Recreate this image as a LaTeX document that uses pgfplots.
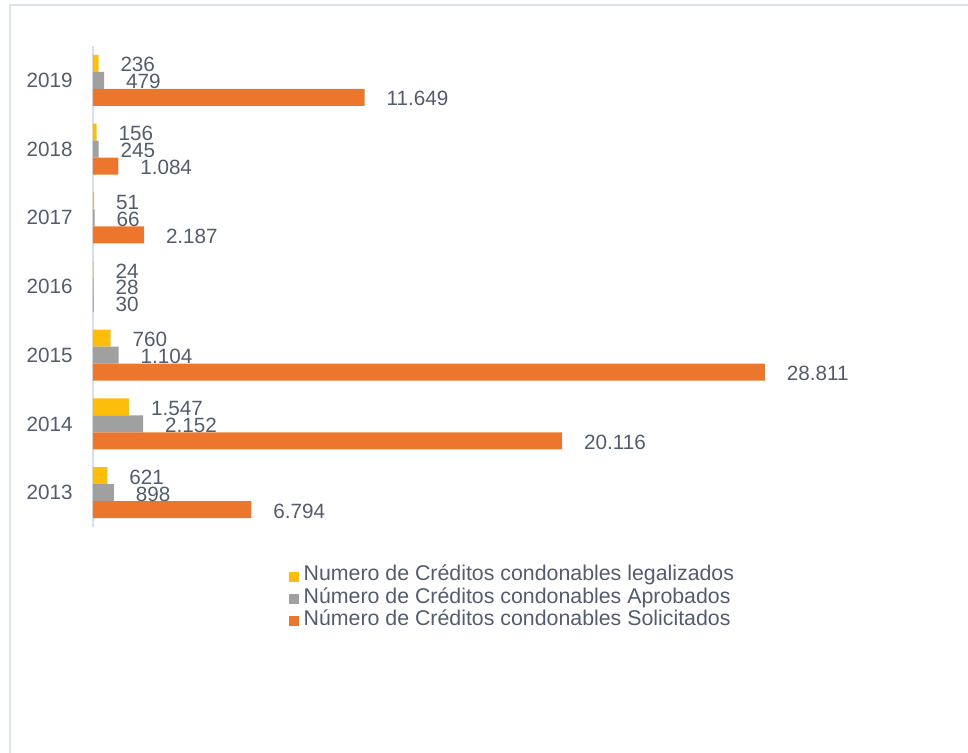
\documentclass[border=0pt]{standalone}
\usepackage{fontspec}
\setmainfont{Liberation Sans}
\usepackage{pgfplots}
\pgfplotsset{compat=1.18}
\definecolor{txt}{RGB}{83,92,108}
\definecolor{framec}{RGB}{220,227,237}
\definecolor{axl}{RGB}{214,224,236}
\definecolor{yel}{RGB}{252,190,10}
\definecolor{gry}{RGB}{160,160,160}
\definecolor{org}{RGB}{237,118,45}
\newcommand{\lblfont}{\fontsize{12.4}{14}\selectfont}
\newcommand{\legfont}{\fontsize{12.8}{14}\selectfont}
\begin{document}
\begin{tikzpicture}
\path[use as bounding box] (0,0) rectangle (580.8pt,-451.8pt);
\draw[framec, line width=1.5pt] (6pt,-451.8pt) -- (6pt,-3pt) -- (580.8pt,-3pt);
\begin{axis}[
  at={(55.8pt,-316.2pt)}, anchor=south west,
  scale only axis, width=420pt, height=288.6pt,
  xbar, bar width=10.2pt,
  xmin=0, xmax=30012, ymin=2012.5, ymax=2019.5,
  axis lines*=left,
  x axis line style={draw=none},
  y axis line style={axl, line width=0.8pt},
  xtick=\empty,
  ytick={2013,2014,2015,2016,2017,2018,2019},
  yticklabels={2013,2014,2015,2016,2017,2018,2019},
  major tick length=0pt,
  yticklabel style={font=\lblfont, text=txt, inner sep=0pt},
  yticklabel shift=12pt,
  clip=false,
  /pgf/number format/.cd, 1000 sep={.}, assume math mode=true, /pgfplots/.cd,
  nodes near coords,
  every node near coord/.append style={anchor=west, inner sep=0pt, xshift=13pt, yshift=-0.8pt, font=\lblfont, text=txt},
  legend style={at={(0.279,-0.079)}, anchor=north west, draw=none, fill=none,
    inner sep=0pt, row sep=0pt, font=\legfont, text=txt,
    nodes={inner sep=0pt, text height=9.2pt, text depth=4.2pt},
    /tikz/every odd column/.append style={column sep=3pt}},
  legend cell align=left,
  legend image code/.code={\fill[#1] (0pt,-3pt) rectangle (6pt,3pt);},
]
\addplot[draw=none, fill=yel, bar shift=10.2pt]
  coordinates {(621,2013) (1547,2014) (760,2015) (24,2016) (51,2017) (156,2018) (236,2019)};
\addplot[draw=none, fill=gry, bar shift=0pt]
  coordinates {(898,2013) (2152,2014) (1104,2015) (28,2016) (66,2017) (245,2018) (479,2019)};
\addplot[draw=none, fill=org, bar shift=-10.2pt]
  coordinates {(6794,2013) (20116,2014) (28811,2015) (30,2016) (2187,2017) (1084,2018) (11649,2019)};
\legend{Numero de Créditos condonables legalizados, Número de Créditos condonables Aprobados, Número de Créditos condonables Solicitados}
\end{axis}
\end{tikzpicture}
\end{document}
